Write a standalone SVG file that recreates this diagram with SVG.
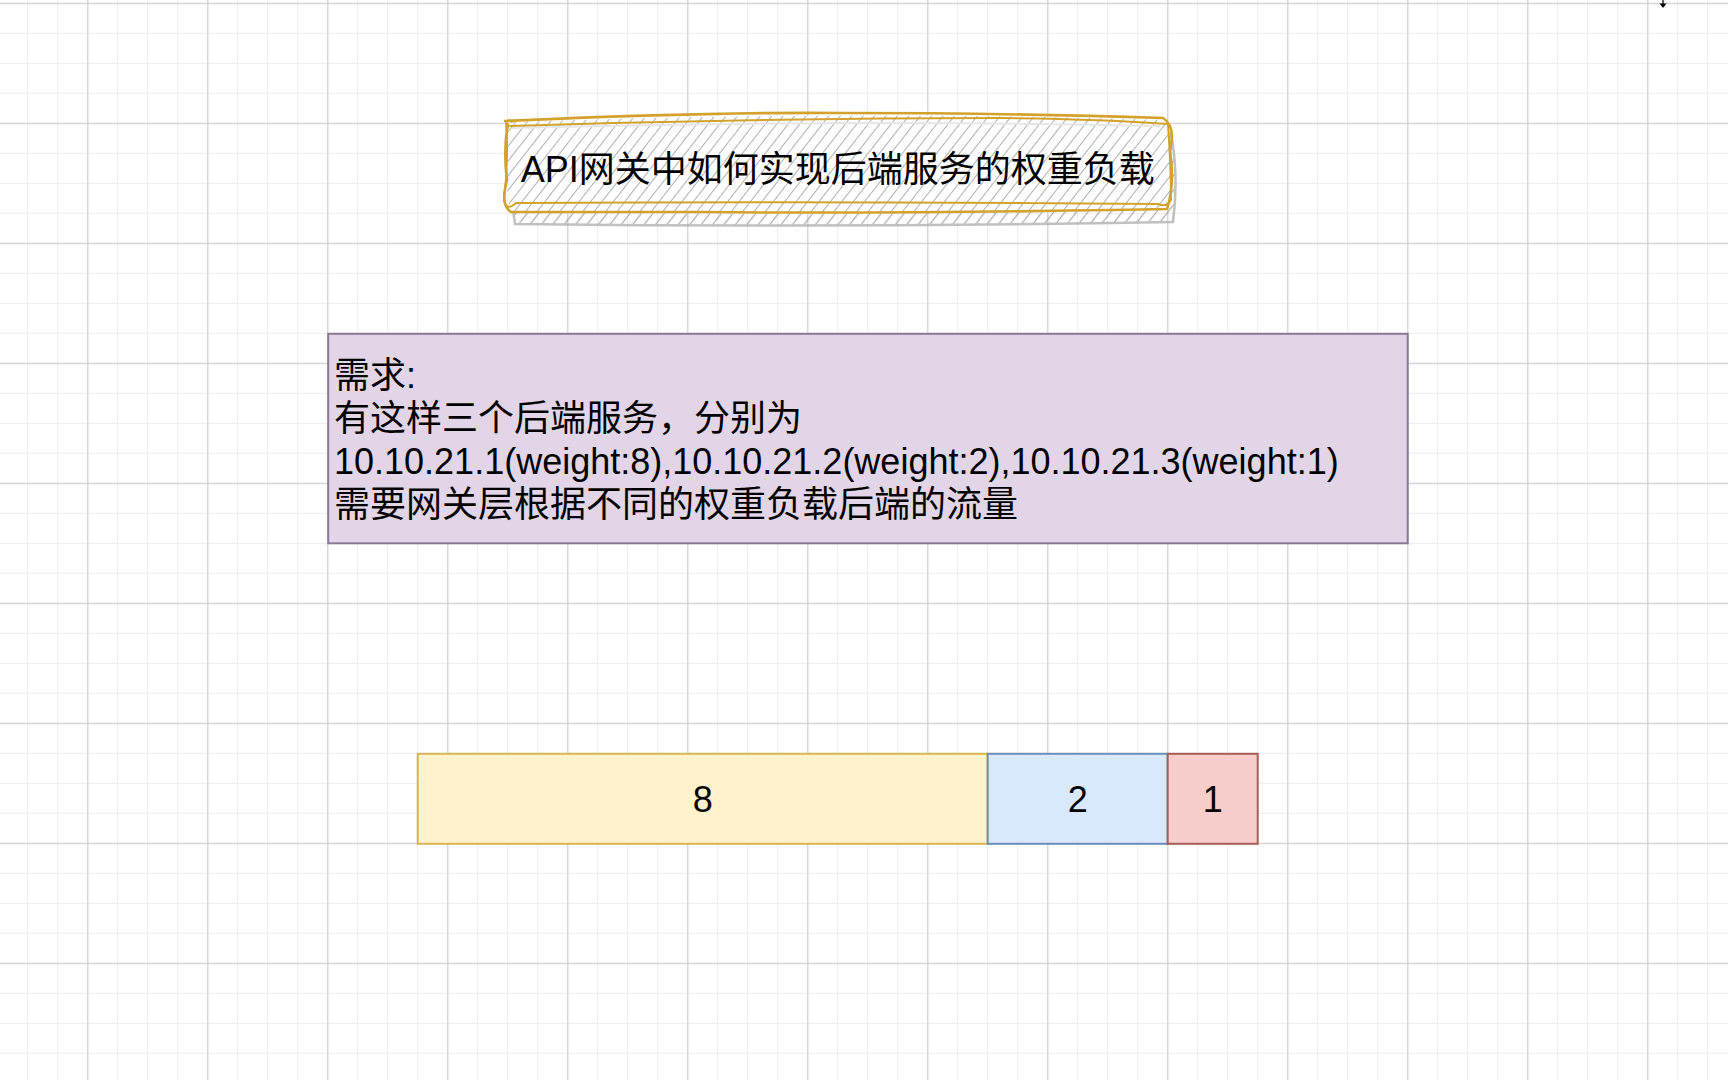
<svg xmlns="http://www.w3.org/2000/svg" width="1728" height="1080" viewBox="0 0 1728 1080">
  <defs>
    <pattern id="gridMinor" patternUnits="userSpaceOnUse" x="27.2" y="2.8" width="30" height="30">
      <rect width="30" height="1" fill="#ededed"/>
      <rect width="1" height="30" fill="#ededed"/>
    </pattern>
    <pattern id="gridMajor" patternUnits="userSpaceOnUse" x="87.2" y="2.8" width="120" height="120">
      <rect width="120" height="1.2" fill="#d2d2d2"/>
      <rect width="1.2" height="120" fill="#d2d2d2"/>
    </pattern>
    <pattern id="hachure" patternUnits="userSpaceOnUse" width="9" height="9" patternTransform="rotate(38)">
      <line x1="4.5" y1="0" x2="4.5" y2="9" stroke="#b0b0b0" stroke-width="1"/>
    </pattern>
    <pattern id="hachureShadow" patternUnits="userSpaceOnUse" width="9" height="9" patternTransform="rotate(38)">
      <line x1="4.5" y1="0" x2="4.5" y2="9" stroke="#8e8e8e" stroke-width="1.3"/>
    </pattern>
  </defs>
  <style>
    .txt { font-family: "Liberation Sans", Arial, "Noto Sans CJK SC", sans-serif; font-size: 36px; fill: #000000; }
    .mid { text-anchor: middle; }
    .gold { fill: none; stroke: #d2a22c; stroke-linecap: round; stroke-linejoin: round; }
    .shadowline { fill: none; stroke: #a8a8a8; stroke-linecap: round; }
  </style>

  <rect width="1728" height="1080" fill="#ffffff"/>
  <rect width="1728" height="1080" fill="url(#gridMinor)"/>
  <rect width="1728" height="1080" fill="url(#gridMajor)"/>

  <g id="title">
    <g id="title-shadow" transform="translate(5,12)" opacity="0.7">
      <path d="M508,122 Q840,110 1166,120 Q1174,165 1168,210 Q840,216 510,212 Q503,167 508,122 Z" fill="url(#hachureShadow)"/>
      <path class="shadowline" stroke-width="2.5" d="M508,123 Q840,111 1166,121 Q1174,165 1168,210 Q840,216 510,212 Q503,167 508,123"/>
    </g>
    <path d="M508,122 Q840,110 1166,120 Q1174,165 1168,210 Q840,216 510,212 Q503,167 508,122 Z" fill="#ffffff"/>
    <path d="M508,122 Q840,110 1166,120 Q1174,165 1168,210 Q840,216 510,212 Q503,167 508,122 Z" fill="url(#hachure)"/>
    <path d="M512,128 Q840,119 1160,126" fill="none" stroke="#e6e6e6" stroke-width="2"/>
    <path class="gold" stroke-width="2.6" d="M505,121 Q700,112 840,113 Q1010,113 1163,118 Q1176,126 1170,150 Q1175,185 1167,209 Q900,214 700,212 Q600,212 511,212 Q500,205 507,180 Q503,150 508,124"/>
    <path class="gold" stroke-width="2" d="M510,126 Q760,118 1000,118 Q1100,119 1168,124 Q1171,170 1171,200 Q1166,208 1158,204 Q840,201 516,203 Q506,212 504,200 Q509,160 506,123 Q508,118 512,122"/>
    <text class="txt mid" x="837.7" y="182">API网关中如何实现后端服务的权重负载</text>
  </g>

  <g id="requirement">
    <rect x="328.2" y="333.8" width="1079.5" height="209.5" fill="#e1d5e7" stroke="#8a7898" stroke-width="2"/>
    <text class="txt" x="334" y="387.5">需求:</text>
    <text class="txt" x="334" y="430.7">有这样三个后端服务，分别为</text>
    <text class="txt" x="334" y="473.9">10.10.21.1(weight:8),10.10.21.2(weight:2),10.10.21.3(weight:1)</text>
    <text class="txt" x="334" y="517.1">需要网关层根据不同的权重负载后端的流量</text>
  </g>

  <g id="weight-8">
    <rect x="417.7" y="753.8" width="570" height="90" fill="#fff2cc" stroke="#d6b656" stroke-width="2"/>
    <text class="txt mid" x="702.7" y="811.5">8</text>
  </g>
  <g id="weight-2">
    <rect x="987.7" y="753.8" width="180" height="90" fill="#dae8fc" stroke="#6c8ebf" stroke-width="2"/>
    <text class="txt mid" x="1077.7" y="811.5">2</text>
  </g>
  <g id="weight-1">
    <rect x="1167.7" y="753.8" width="90" height="90" fill="#f8cecc" stroke="#a85e55" stroke-width="2"/>
    <text class="txt mid" x="1212.7" y="811.5">1</text>
  </g>

  <g id="connectors">
    <path d="M1663,0 V4" fill="none" stroke="#000000" stroke-width="1.2"/>
    <path d="M1659.5,3.5 L1666.5,3.5 L1663,8 Z" fill="#000000"/>
  </g>
</svg>
